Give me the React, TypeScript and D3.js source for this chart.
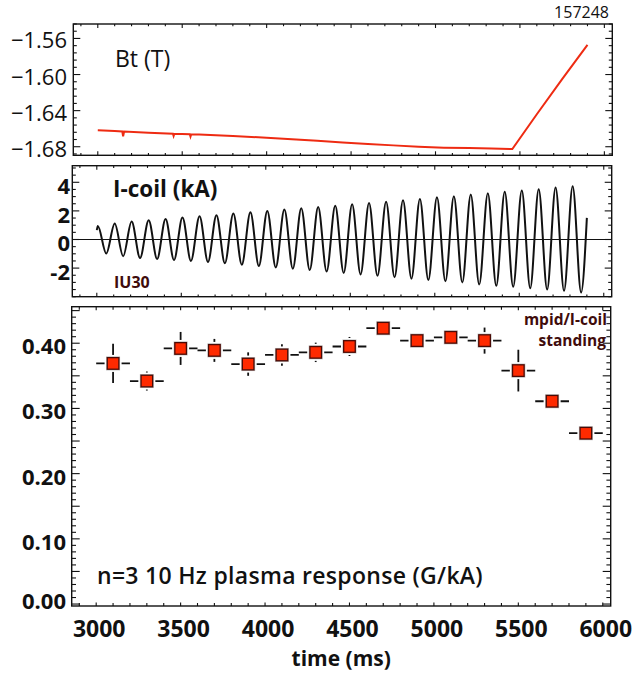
import React from 'react';
import * as d3 from 'd3';

// ---------- data ----------
const shotLabel = '157248';

// Bt (T) trace
const btTime = [3000, 3100, 3145, 3150, 3156, 3300, 3445, 3449, 3453, 3545, 3549, 3553, 3600, 3800, 4000, 4150, 4300, 4450, 4600, 4750, 4900, 5050, 5200, 5330, 5455, 5600, 5750, 5900];
const btValue = [-1.6618, -1.6625, -1.663, -1.6685, -1.6632, -1.6645, -1.6655, -1.668, -1.6657, -1.6662, -1.6688, -1.6664, -1.6665, -1.668, -1.670, -1.6718, -1.6735, -1.6752, -1.677, -1.6785, -1.680, -1.681, -1.6815, -1.682, -1.6825, -1.644, -1.605, -1.5672];

// I-coil (kA) oscillation: start/end points, peaks and troughs
const icoilStart = [3000, 0.65];
const icoilEnd = [5900, 1.51];
const peakTime = [3006, 3106, 3206, 3307, 3407, 3507, 3608, 3708, 3808, 3909, 4009, 4110, 4210, 4310, 4411, 4511, 4611, 4712, 4812, 4912, 5013, 5113, 5213, 5314, 5414, 5515, 5615, 5715, 5816];
const peakValue = [0.95, 1.12, 1.26, 1.35, 1.44, 1.54, 1.63, 1.70, 1.82, 1.90, 2.00, 2.09, 2.18, 2.27, 2.36, 2.46, 2.55, 2.64, 2.74, 2.84, 2.95, 3.03, 3.15, 3.24, 3.33, 3.43, 3.52, 3.64, 3.73];
const troughTime = [3056, 3156, 3256, 3357, 3457, 3557, 3658, 3758, 3858, 3959, 4059, 4160, 4260, 4360, 4461, 4561, 4661, 4762, 4862, 4962, 5063, 5163, 5263, 5364, 5464, 5565, 5665, 5765, 5866];
const troughValue = [-0.98, -1.17, -1.29, -1.36, -1.43, -1.50, -1.57, -1.66, -1.76, -1.85, -1.95, -2.04, -2.14, -2.24, -2.34, -2.44, -2.54, -2.64, -2.74, -2.83, -2.92, -3.00, -3.15, -3.24, -3.31, -3.41, -3.50, -3.59, -3.71];

// plasma response (G/kA)
const respTime = [3100, 3300, 3500, 3700, 3900, 4100, 4300, 4500, 4700, 4900, 5100, 5300, 5500, 5700, 5900];
const respValue = [0.369, 0.342, 0.392, 0.389, 0.368, 0.382, 0.386, 0.395, 0.423, 0.404, 0.409, 0.404, 0.358, 0.311, 0.262];
const respErr = [0.030, 0.0146, 0.0253, 0.0176, 0.018, 0.0164, 0.0149, 0.0146, 0.0118, 0.008, 0.008, 0.020, 0.032, 0.007, 0.007];
const respHalfWidth = 100; // ms

// ticks
const timeTicks = [3000, 3500, 4000, 4500, 5000, 5500, 6000];
const btTicks = [-1.68, -1.64, -1.60, -1.56];
const icoilTicks = [-2, 0, 2, 4];
const respTicks = [0.0, 0.1, 0.2, 0.3, 0.4];

// ---------- layout ----------
const W = 642;
const H = 673;
const FONT = "'Open Sans', 'Liberation Sans', sans-serif";
const RED = '#ee2b12';
const MAROON = '#3f0c0c';

type Box = { left: number; right: number; top: number; bottom: number };
const topBox: Box = { left: 73.3, right: 612.3, top: 24, bottom: 155.3 };
const midBox: Box = { left: 72.3, right: 611.7, top: 165.7, bottom: 296.7 };
const botBox: Box = { left: 71.7, right: 610.7, top: 306.7, bottom: 606 };
const tDomain: [number, number] = [2855, 6047];

function range(a: number, b: number, step: number) {
  const out: number[] = [];
  const n = Math.round((b - a) / step);
  for (let i = 0; i <= n; i++) out.push(+(a + i * step).toFixed(6));
  return out;
}

function Frame({ box, x, y, xMinorStep, yMajor, yMinor, xMajLen = 4, xMinLen = 2.2, yMajLen = 7, yMinLen = 3.5 }: any) {
  const xMaj = timeTicks.filter((t) => t >= tDomain[0] && t <= tDomain[1]);
  const xMin = range(2900, 6000, xMinorStep).filter((t) => !xMaj.includes(t));
  const [d0, d1] = y.domain();
  const lo = Math.min(d0, d1), hi = Math.max(d0, d1);
  const yMj = yMajor.filter((v: number) => v >= lo - 1e-9 && v <= hi + 1e-9);
  const yMn = yMinor.filter((v: number) => v >= lo - 1e-9 && v <= hi + 1e-9 && !yMj.some((m: number) => Math.abs(m - v) < 1e-9));
  const s = { stroke: '#111', strokeWidth: 1.1 };
  return (
    <g>
      {xMaj.map((t: number) => (
        <g key={'xM' + t}>
          <line x1={x(t)} x2={x(t)} y1={box.bottom} y2={box.bottom - xMajLen} {...s} />
          <line x1={x(t)} x2={x(t)} y1={box.top} y2={box.top + xMajLen} {...s} />
        </g>
      ))}
      {xMin.map((t: number) => (
        <g key={'xm' + t}>
          <line x1={x(t)} x2={x(t)} y1={box.bottom} y2={box.bottom - xMinLen} {...s} />
          <line x1={x(t)} x2={x(t)} y1={box.top} y2={box.top + xMinLen} {...s} />
        </g>
      ))}
      {yMj.map((v: number) => (
        <g key={'yM' + v}>
          <line x1={box.left} x2={box.left + yMajLen} y1={y(v)} y2={y(v)} {...s} />
          <line x1={box.right} x2={box.right - yMajLen} y1={y(v)} y2={y(v)} {...s} />
        </g>
      ))}
      {yMn.map((v: number) => (
        <g key={'ym' + v}>
          <line x1={box.left} x2={box.left + yMinLen} y1={y(v)} y2={y(v)} {...s} />
          <line x1={box.right} x2={box.right - yMinLen} y1={y(v)} y2={y(v)} {...s} />
        </g>
      ))}
      <rect x={box.left} y={box.top} width={box.right - box.left} height={box.bottom - box.top} fill="none" stroke="#111" strokeWidth={1.4} />
    </g>
  );
}

export default function App() {
  // scales
  const xTop = d3.scaleLinear().domain(tDomain).range([topBox.left, topBox.right]);
  const xMid = d3.scaleLinear().domain(tDomain).range([midBox.left, midBox.right]);
  const xBot = d3.scaleLinear().domain(tDomain).range([botBox.left, botBox.right]);
  const yTop = d3.scaleLinear().domain([-1.6895, -1.544]).range([topBox.bottom, topBox.top]);
  const yMid = d3.scaleLinear().domain([-4.0, 5.16]).range([midBox.bottom, midBox.top]);
  const yBot = d3.scaleLinear().domain([-0.003, 0.456]).range([botBox.bottom, botBox.top]);

  const btLine = d3.line<number>().x((_, i) => xTop(btTime[i])).y((d) => yTop(d));

  const wavePts: [number, number][] = [[icoilStart[0], icoilStart[1]]];
  peakTime.forEach((t, i) => {
    wavePts.push([t, peakValue[i]]);
    wavePts.push([troughTime[i], troughValue[i]]);
  });
  wavePts.push([icoilEnd[0], icoilEnd[1]]);
  const waveLine = d3.line<[number, number]>().x((d) => xMid(d[0])).y((d) => yMid(d[1])).curve(d3.curveMonotoneX);

  const fmt2 = d3.format('.2f');

  return (
    <svg width={W} height={H} style={{ position: 'absolute', left: 0, top: 0, display: 'block', background: '#fff' }} fontFamily={FONT}>
      <rect x={0} y={0} width={W} height={H} fill="#fff" />
      <text x={609} y={18} textAnchor="end" fontSize={16} fill="#111">{shotLabel}</text>

      {/* ---------- top panel ---------- */}
      <path d={btLine(btValue) || ''} fill="none" stroke={RED} strokeWidth={2} />
      <Frame box={topBox} x={xTop} y={yTop} xMinorStep={100} yMajor={btTicks} yMinor={range(-1.688, -1.544, 0.008)} />
      {btTicks.map((v) => (
        <text key={v} x={67} y={yTop(v) + 1} textAnchor="end" dominantBaseline="central" fontSize={22} fill="#111">{fmt2(v)}</text>
      ))}
      <text x={115} y={66.5} fontSize={23} fill="#111">Bt (T)</text>

      {/* ---------- middle panel ---------- */}
      <line x1={midBox.left} x2={midBox.right} y1={yMid(0)} y2={yMid(0)} stroke="#111" strokeWidth={1.2} />
      <path d={waveLine(wavePts) || ''} fill="none" stroke="#111" strokeWidth={2} />
      <Frame box={midBox} x={xMid} y={yMid} xMinorStep={100} yMajor={icoilTicks} yMinor={range(-4, 5, 0.5)} />
      {icoilTicks.map((v) => (
        <text key={v} x={70} y={yMid(v) + 3} textAnchor="end" dominantBaseline="central" fontSize={22} fontWeight="bold" fill="#111">{v}</text>
      ))}
      <text x={113} y={197} fontSize={22.5} fontWeight="bold" fill="#111">I-coil (kA)</text>
      <text x={114} y={288.3} fontSize={16} fontWeight="bold" fill={MAROON}>IU30</text>

      {/* ---------- bottom panel ---------- */}
      {respTime.map((t, i) => {
        const cx = xBot(t);
        const cy = yBot(respValue[i]);
        return (
          <g key={'eb' + t}>
            <line x1={xBot(t - respHalfWidth)} x2={xBot(t + respHalfWidth)} y1={cy} y2={cy} stroke="#111" strokeWidth={1.8} />
            <line x1={cx} x2={cx} y1={yBot(respValue[i] - respErr[i])} y2={yBot(respValue[i] + respErr[i])} stroke="#111" strokeWidth={1.8} />
          </g>
        );
      })}
      {respTime.map((t, i) => {
        const cx = xBot(t);
        const cy = yBot(respValue[i]);
        return (
          <g key={'sq' + t}>
            <rect x={cx - 8.5} y={cy - 8.5} width={17} height={17} fill="#fff" />
            <rect x={cx - 6.5} y={cy - 6.5} width={13} height={13} fill="none" stroke="#bbb" strokeWidth={1} />
            <rect x={cx - 5.8} y={cy - 5.8} width={11.6} height={11.6} fill="#ff2a00" stroke="#4a0a05" strokeWidth={1.3} />
          </g>
        );
      })}
      <Frame box={botBox} x={xBot} y={yBot} xMinorStep={100} yMajor={range(0, 0.45, 0.05)} yMinor={range(0, 0.45, 0.01)} yMajLen={8} yMinLen={4.3} xMajLen={3.5} xMinLen={3} />
      {respTicks.map((v) => (
        <text key={v} x={66} y={Math.min(yBot(v) + 2, botBox.bottom - 6.5)} textAnchor="end" dominantBaseline="central" fontSize={22} fontWeight="bold" fill="#111">{fmt2(v)}</text>
      ))}
      <text x={607} y={325} textAnchor="end" fontSize={15.5} fontWeight="bold" fill={MAROON}>mpid/I-coil</text>
      <text x={606} y={346} textAnchor="end" fontSize={15.5} fontWeight="bold" fill={MAROON}>standing</text>
      <text x={97} y={584} fontSize={23} fontWeight={600} letterSpacing={0.3} fill="#111">n=3 10 Hz plasma response (G/kA)</text>

      {timeTicks.map((t) => (
        <text key={t} x={xBot(t) + 3} y={636.7} textAnchor="middle" fontSize={23} fontWeight="bold" fill="#111">{t}</text>
      ))}
      <text x={(botBox.left + botBox.right) / 2} y={666} textAnchor="middle" fontSize={21} fontWeight="bold" fill="#111">time (ms)</text>
    </svg>
  );
}
